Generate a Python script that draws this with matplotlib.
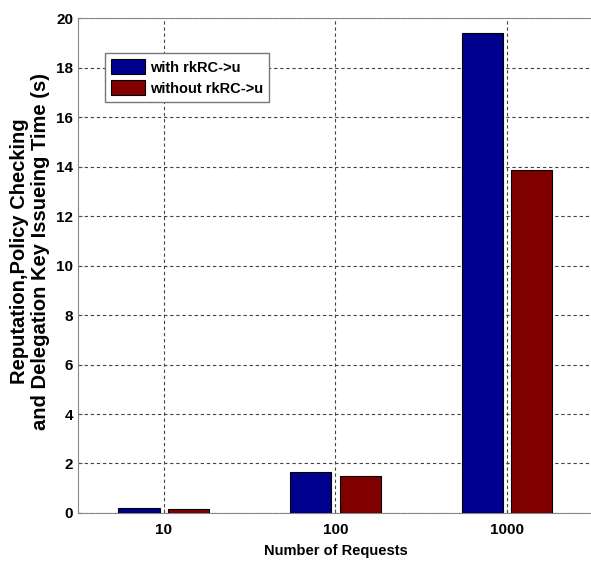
import matplotlib
matplotlib.use("Agg")
import matplotlib.pyplot as plt
import numpy as np

plt.rcParams['font.family'] = ['Liberation Sans', 'DejaVu Sans']
plt.rcParams['font.weight'] = 'bold'

requests = ["10", "100", "1000"]
with_rk = [0.2, 1.65, 19.4]
without_rk = [0.15, 1.5, 13.85]

colors = ("#00008f", "#800000")
labels = ("with rkRC->u", "without rkRC->u")

x = np.arange(1, len(requests) + 1)
w = 0.24
off = 0.145

fig = plt.figure(figsize=(5.91, 5.61), dpi=100)
ax = fig.add_axes([0.132, 0.0856, 0.871, 0.882])

ax.bar(x - off, with_rk, width=w, color=colors[0], edgecolor="black", linewidth=0.8, label=labels[0], zorder=3)
ax.bar(x + off, without_rk, width=w, color=colors[1], edgecolor="black", linewidth=0.8, label=labels[1], zorder=3)

ax.set_xlim(0.5, 3.5)
ax.set_ylim(0, 20)
ax.set_xticks(x, requests)
ax.set_yticks(np.arange(0, 21, 2))
ax.tick_params(direction="in", length=3, labelsize=11, color="#555555")
ax.tick_params(axis="x", pad=7)
for lab in ax.get_xticklabels() + ax.get_yticklabels():
    lab.set_fontweight("bold")

ax.grid(True, linestyle=(0, (3, 2.5)), color="#444444", linewidth=0.8, zorder=0)
for s in ax.spines.values():
    s.set_color("#888888")

ax.set_xlabel("Number of Requests", fontsize=10.5, fontweight="bold")
ax.xaxis.set_label_coords(0.5, -0.063)
ax.set_ylabel("Reputation,Policy Checking\nand Delegation Key Issueing Time (s)",
              fontsize=14.5, fontweight="bold", linespacing=1.12)
ax.yaxis.set_label_coords(-0.054, 0.529)

leg = ax.legend(loc="upper left", bbox_to_anchor=(0.052, 0.929), borderaxespad=0,
                fontsize=10.5, fancybox=False, framealpha=1, edgecolor="#777777",
                handlelength=2.33, handleheight=1.16, borderpad=0.41,
                labelspacing=0.41, handletextpad=0.34)
leg.get_frame().set_linewidth(1.0)

fig.savefig("out.png", dpi=100)
